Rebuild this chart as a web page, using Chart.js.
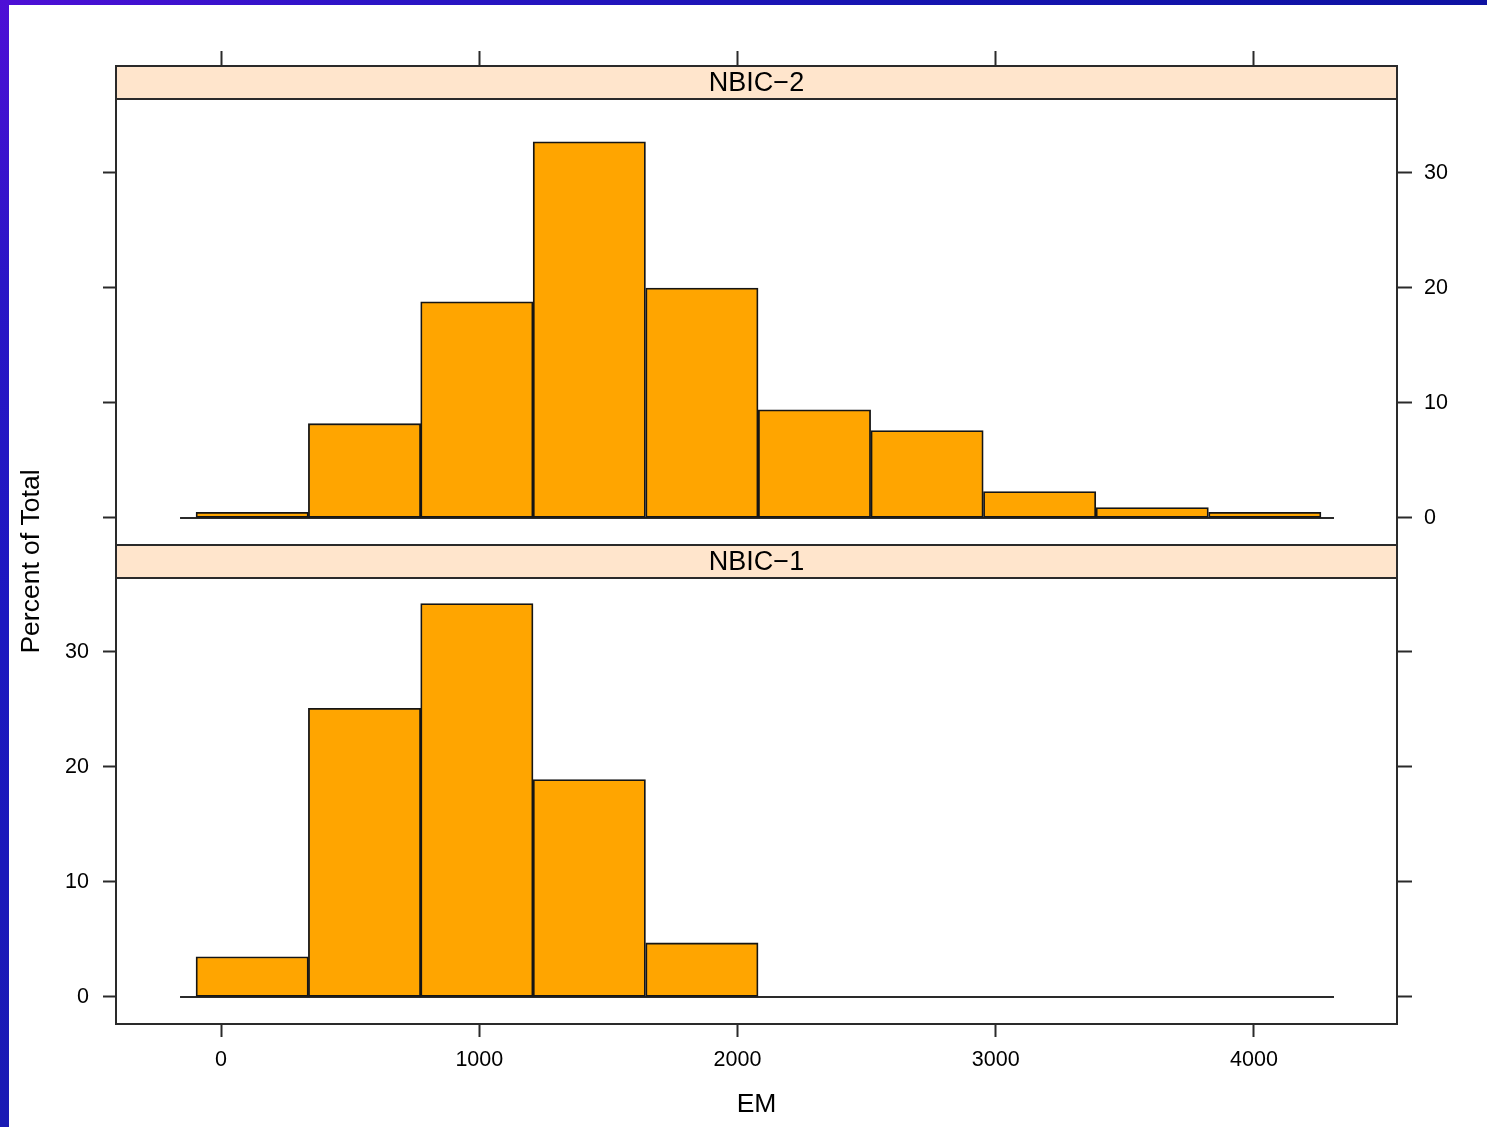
<!DOCTYPE html>
<html>
<head>
<meta charset="utf-8">
<script src="https://cdn.jsdelivr.net/npm/chart.js@4/dist/chart.umd.min.js"></script>
<style>
html,body{margin:0;padding:0;width:1487px;height:1127px;overflow:hidden;background:#fff;}
#topband{position:absolute;left:0;top:0;width:1487px;height:5px;background:linear-gradient(90deg,#4e0fd6 0%,#2c14c6 25%,#1614b0 60%,#0e12a2 100%);}
#leftband{position:absolute;left:0;top:0;width:9px;height:1127px;background:linear-gradient(180deg,#4e0fd6 0%,#2a16c6 25%,#1c18c0 55%,#1a1ab4 100%);}
canvas{position:absolute;left:0;top:0;}
</style>
</head>
<body>
<div id="topband"></div>
<div id="leftband"></div>
<canvas id="c" width="1487" height="1127"></canvas>
<script>
// ---- data ----
const panelNames = ['NBIC\u22121', 'NBIC\u22122'];          // bottom panel, top panel
const binEdges   = [-97, 338, 773, 1208, 1644, 2080, 2516, 2952, 3388, 3824, 4260];
const nbic2Pct   = [0.5, 8.2, 18.8, 32.7, 20.0, 9.4, 7.6, 2.3, 0.9, 0.5];
const nbic1Pct   = [3.5, 25.1, 34.2, 18.9, 4.7, 0, 0, 0, 0, 0];
const xTicks     = [0, 1000, 2000, 3000, 4000];
const yTicks     = [0, 10, 20, 30];
const baselineX  = [-159, 4310];
const xTitle     = 'EM';
const yTitle     = 'Percent of Total';

// ---- derived ----
const centers = binEdges.slice(0, -1).map((e, i) => (e + binEdges[i + 1]) / 2);
const toPts = vals => vals.map((v, i) => ({x: centers[i], y: v}));
const basePts = baselineX.map(x => ({x: x, y: 0}));

const FONT = "'Liberation Sans', Arial, Helvetica, sans-serif";
const AX = '#2a2a2a';
const X_MIN = -407, X_MAX = 4554;
const Y_MIN = -2.35, Y_MAX = 39.3;
const STRIP_H = 33;
const tickFont = {family: FONT, size: 21.5};

Chart.defaults.font.family = FONT;

const setTicks = vals => s => { s.ticks = vals.map(v => ({value: v})); };
const setW = w => s => { s.width = w; };
const setH = h => s => { s.height = h; };
const fmt = v => String(v);

function yScale(position, labels, tl, pad, w) {
  return {
    type: 'linear', position: position, stack: 'st', stackWeight: 1,
    min: Y_MIN, max: Y_MAX, beginAtZero: false, bounds: 'data',
    grid: {drawOnChartArea: false, drawTicks: true, tickLength: tl, tickWidth: 2, tickColor: AX},
    border: {display: true, color: AX, width: 2},
    ticks: {display: labels, color: '#000', font: tickFont, padding: pad, callback: fmt},
    afterBuildTicks: setTicks(yTicks),
    afterFit: setW(w)
  };
}

const decor = {
  id: 'decor',
  afterDraw(chart) {
    const ctx = chart.ctx, a = chart.chartArea;
    [['yTopL', panelNames[1]], ['yBotL', panelNames[0]]].forEach(([id, label]) => {
      const top = chart.scales[id].top;
      ctx.save();
      ctx.fillStyle = '#FFE5CC';
      ctx.fillRect(a.left + 1, top, a.right - a.left - 2, STRIP_H);
      ctx.strokeStyle = AX; ctx.lineWidth = 2;
      ctx.beginPath();
      ctx.moveTo(a.left, top); ctx.lineTo(a.right, top);
      ctx.moveTo(a.left, top + STRIP_H); ctx.lineTo(a.right, top + STRIP_H);
      ctx.stroke();
      ctx.fillStyle = '#000';
      ctx.font = '27px ' + FONT;
      ctx.textAlign = 'center'; ctx.textBaseline = 'alphabetic';
      ctx.fillText(label, (a.left + a.right) / 2, top + STRIP_H / 2 + 8.5);
      ctx.restore();
    });
    ctx.save();
    ctx.translate(39, (a.top + STRIP_H + a.bottom) / 2);
    ctx.rotate(-Math.PI / 2);
    ctx.fillStyle = '#000';
    ctx.font = '26.5px ' + FONT;
    ctx.textAlign = 'center'; ctx.textBaseline = 'alphabetic';
    ctx.fillText(yTitle, 0, 0);
    ctx.restore();
  }
};

const barStyle = {
  type: 'bar', xAxisID: 'x',
  backgroundColor: '#FFA500', borderColor: '#151515', borderWidth: 1.8,
  borderSkipped: false, grouped: false, barPercentage: 1, categoryPercentage: 1, order: 1
};
const lineStyle = {
  type: 'line', xAxisID: 'x', borderColor: AX, borderWidth: 2,
  pointRadius: 0, fill: false, order: 2
};

new Chart(document.getElementById('c'), {
  type: 'bar',
  data: {
    datasets: [
      Object.assign({label: panelNames[1] + ' baseline', data: basePts, yAxisID: 'yTopL'}, lineStyle),
      Object.assign({label: panelNames[0] + ' baseline', data: basePts, yAxisID: 'yBotL'}, lineStyle),
      Object.assign({label: panelNames[1], data: toPts(nbic2Pct), yAxisID: 'yTopL'}, barStyle),
      Object.assign({label: panelNames[0], data: toPts(nbic1Pct), yAxisID: 'yBotL'}, barStyle)
    ]
  },
  options: {
    responsive: false, animation: false, devicePixelRatio: 1, events: [],
    layout: {padding: 0},
    plugins: {legend: {display: false}, tooltip: {enabled: false}, title: {display: false}},
    scales: {
      x: {
        type: 'linear', position: 'bottom', min: X_MIN, max: X_MAX, offset: false, bounds: 'data',
        grid: {drawOnChartArea: false, drawTicks: true, tickLength: 13, tickWidth: 2, tickColor: AX, offset: false},
        border: {display: true, color: AX, width: 2},
        ticks: {color: '#000', font: tickFont, padding: 10, maxRotation: 0, autoSkip: false, callback: fmt},
        title: {display: true, text: xTitle, color: '#000', font: {family: FONT, size: 26.5}, padding: {top: 0, bottom: 6}},
        afterBuildTicks: setTicks(xTicks),
        afterFit: setH(103)
      },
      xTop: {
        type: 'linear', position: 'top', min: X_MIN, max: X_MAX, offset: false, bounds: 'data',
        grid: {drawOnChartArea: false, drawTicks: true, tickLength: 15, tickWidth: 2, tickColor: AX, offset: false},
        border: {display: true, color: AX, width: 2},
        ticks: {display: false, callback: fmt},
        afterBuildTicks: setTicks(xTicks),
        afterFit: setH(66)
      },
      yBotL: yScale('left', true, 13, 14, 116),
      yTopL: yScale('left', false, 13, 14, 116),
      yTopR: yScale('right', true, 15, 12, 90),
      yBotR: yScale('right', false, 15, 12, 90)
    }
  },
  plugins: [decor]
});
</script>
</body>
</html>
